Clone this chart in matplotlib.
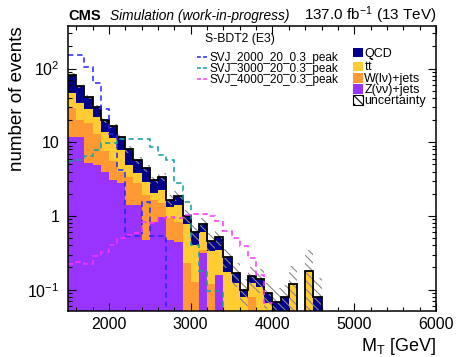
import matplotlib
matplotlib.use('Agg')
import matplotlib.pyplot as plt
import numpy as np
from matplotlib.lines import Line2D
from matplotlib.patches import Patch

plt.rcParams['font.family'] = ['Liberation Sans', 'DejaVu Sans']
plt.rcParams['mathtext.fontset'] = 'custom'
plt.rcParams['mathtext.rm'] = 'Liberation Sans'
plt.rcParams['mathtext.it'] = 'Liberation Sans:italic'
plt.rcParams['mathtext.bf'] = 'Liberation Sans:bold'
plt.rcParams['hatch.linewidth'] = 0.8

# 100 GeV bins starting at 1500 GeV
bin_start = 1500
bin_width = 100

# background stack, bottom to top
z_vv = [11.9, 11.9, 5.2, 4.9, 4.0, 3.1, 2.8, 1.4, 1.4, 0.47, 0.84, 0.98, 0.47, 0.45, 0, 0,
        0.31, 0, 0.16, 0, 0, 0, 0, 0, 0, 0, 0, 0, 0, 0, 0]
w_lv = [17.0, 8.2, 12.8, 8.1, 3.5, 2.4, 1.2, 2.0, 1.4, 1.46, 0.81, 0.52, 0.46, 0.39, 0.23, 0.128,
        0.04, 0.12, 0, 0.05, 0.05, 0, 0.08, 0, 0, 0, 0, 0, 0, 0, 0]
ttbar = [17.1, 13.7, 10, 9, 6.4, 6.0, 3.9, 1.5, 1.0, 0.97, 0.38, 0.75, 0.41, 0.57, 0.54, 0.27,
         0.25, 0.21, 0.185, 0.126, 0.072, 0.08, 0.042, 0.11, 0.065, 0, 0, 0.118, 0, 0.18, 0]
qcd = [36, 24.2, 13, 8.4, 6.1, 5.1, 4.0, 3.1, 1.95, 1.54, 1.05, 1.17, 0.31, 0.48, 0.23, 0.21,
       0.17, 0.13, 0.175, 0.1, 0.048, 0.02, 0.031, 0.03, 0.024, 0.069, 0.08, 0, 0, 0, 0.08]
bkg_err = [4, 3, 2.5, 2, 1.5, 1.2, 1.0, 0.8, 0.6, 0.5, 0.35, 0.45, 0.25, 0.3, 0.2, 0.15,
           0.18, 0.12, 0.13, 0.08, 0.06, 0.04, 0.05, 0.05, 0.035, 0.035, 0.035, 0.09, 0, 0.165, 0.063]

# signals
svj_2000 = [153, 153, 106, 64, 28, 13, 4.2, 0.53, 0.53, 1.56, 0.53, 0.53]
svj_3000 = [5.5, 5.8, 6.5, 7.9, 9.7, 9.7, 11.2, 11.2, 11.2, 11.2, 8.7, 6.7, 5.7, 2.8, 1.55,
            0.40, 0.18, 0.095, 0.095]
svj_4000 = [0.22, 0.24, 0.22, 0.29, 0.32, 0.40, 0.50, 0.55, 0.58, 0.83, 0.80, 0.93, 0.98,
            0.93, 1.02, 1.06, 1.05, 1.0, 0.85, 0.62, 0.50, 0.39, 0.27, 0.16, 0.065]

nbins = 45
edges = bin_start + bin_width * np.arange(nbins + 1)


def pad(vals):
    out = np.zeros(nbins)
    out[:len(vals)] = vals
    return out


floor = 1e-3
layers = [(z_vv, '#9933ff', 'Z(νν)+jets'),
          (w_lv, '#ff9933', 'W(lν)+jets'),
          (ttbar, '#ffcc33', r't$\bar{\mathrm{t}}$'),
          (qcd, '#00008c', 'QCD')]

fig = plt.figure(figsize=(4.58, 3.57), dpi=100)
ax = fig.add_axes([0.1485, 0.1289, 0.8035, 0.7983])

bottom = np.zeros(nbins)
for vals, col, lab in layers:
    top = bottom + pad(vals)
    ax.stairs(np.maximum(top, floor), edges, baseline=np.maximum(bottom, floor),
              fill=True, color=col, linewidth=0)
    bottom = top
total = bottom

# uncertainty band
err = pad(bkg_err)
ax.stairs(np.maximum(total + err, floor), edges, baseline=np.maximum(total - err, floor),
          fill=True, facecolor='none', edgecolor='#888888', hatch='\\\\\\\\', linewidth=0)

# total outline
ax.stairs(np.maximum(total, floor), edges, color='black', linewidth=1.3, baseline=None)

sig_colors = ['#2424ff', '#0f9f9f', '#ff33ff']
sig_labels = ['SVJ_2000_20_0.3_peak', 'SVJ_3000_20_0.3_peak', 'SVJ_4000_20_0.3_peak']
for vals, col in zip([svj_2000, svj_3000, svj_4000], sig_colors):
    ax.stairs(np.maximum(pad(vals), floor), edges, color=col, linewidth=1.1,
              linestyle=(0, (3.5, 2.5)), baseline=None)

ax.set_yscale('log')
ax.set_xlim(1500, 6000)
ax.set_ylim(0.0514, 378)

ax.set_xticks([2000, 3000, 4000, 5000, 6000])
ax.set_xticks(np.arange(1600, 6000, 200), minor=True)
ax.set_yticks([0.1, 1, 10, 100])
ax.set_yticklabels(['10$^{-1}$', '1', '10', '10$^{2}$'])
ax.tick_params(which='both', direction='in', top=True, right=True, width=0.8)
ax.tick_params(which='major', length=6)
ax.tick_params(which='minor', length=3)
ax.tick_params(axis='x', which='major', labelsize=11.5, pad=4)
ax.tick_params(axis='y', which='major', labelsize=11.5, pad=6)
for s in ax.spines.values():
    s.set_linewidth(1.1)

ax.set_xlabel(r'M$_\mathrm{T}$ [GeV]', fontsize=13, loc='right', labelpad=3)
ax.set_ylabel('number of events', fontsize=13.5, loc='top', labelpad=1)

# legends
fig.text(205 / 458, 1 - 39 / 357, 'S-BDT2 (E3)', fontsize=8.8, va='center')
sig_handles = [Line2D([], [], color=c, linewidth=1.1, linestyle=(0, (2.5, 1.5)))
               for c in sig_colors]
leg1 = ax.legend(sig_handles, sig_labels, fontsize=8.5, frameon=False, loc='upper left',
                 bbox_to_anchor=(197 / 458, 1 - 52.5 / 357), bbox_transform=fig.transFigure,
                 borderpad=0, borderaxespad=0, handlelength=0.85, handletextpad=0.25,
                 labelspacing=-0.1)
ax.add_artist(leg1)

bkg_handles = [Patch(facecolor=c, edgecolor='none') for _, c, _ in layers[::-1]]
bkg_handles.append(Patch(facecolor='white', edgecolor='black', hatch='\\\\\\\\', linewidth=0.8))
bkg_labels = [lab for _, _, lab in layers[::-1]] + ['uncertainty']
ax.legend(bkg_handles, bkg_labels, fontsize=9, frameon=False, loc='upper left',
          bbox_to_anchor=(353 / 458, 1 - 47.5 / 357), bbox_transform=fig.transFigure,
          borderpad=0, borderaxespad=0, handlelength=0.8, handleheight=0.8,
          handletextpad=0.1, labelspacing=-0.08)

fig.text(68 / 458, 1 - 20 / 357, 'CMS', fontsize=10.5, fontweight='bold', va='baseline')
fig.text(110 / 458, 1 - 20 / 357, 'Simulation (work-in-progress)', fontsize=9.9,
         fontstyle='italic', va='baseline')
fig.text(436 / 458, 1 - 20 / 357, '137.0 fb$^{-1}$ (13 TeV)', fontsize=11, ha='right',
         va='baseline')

fig.savefig('out.png', dpi=100)
